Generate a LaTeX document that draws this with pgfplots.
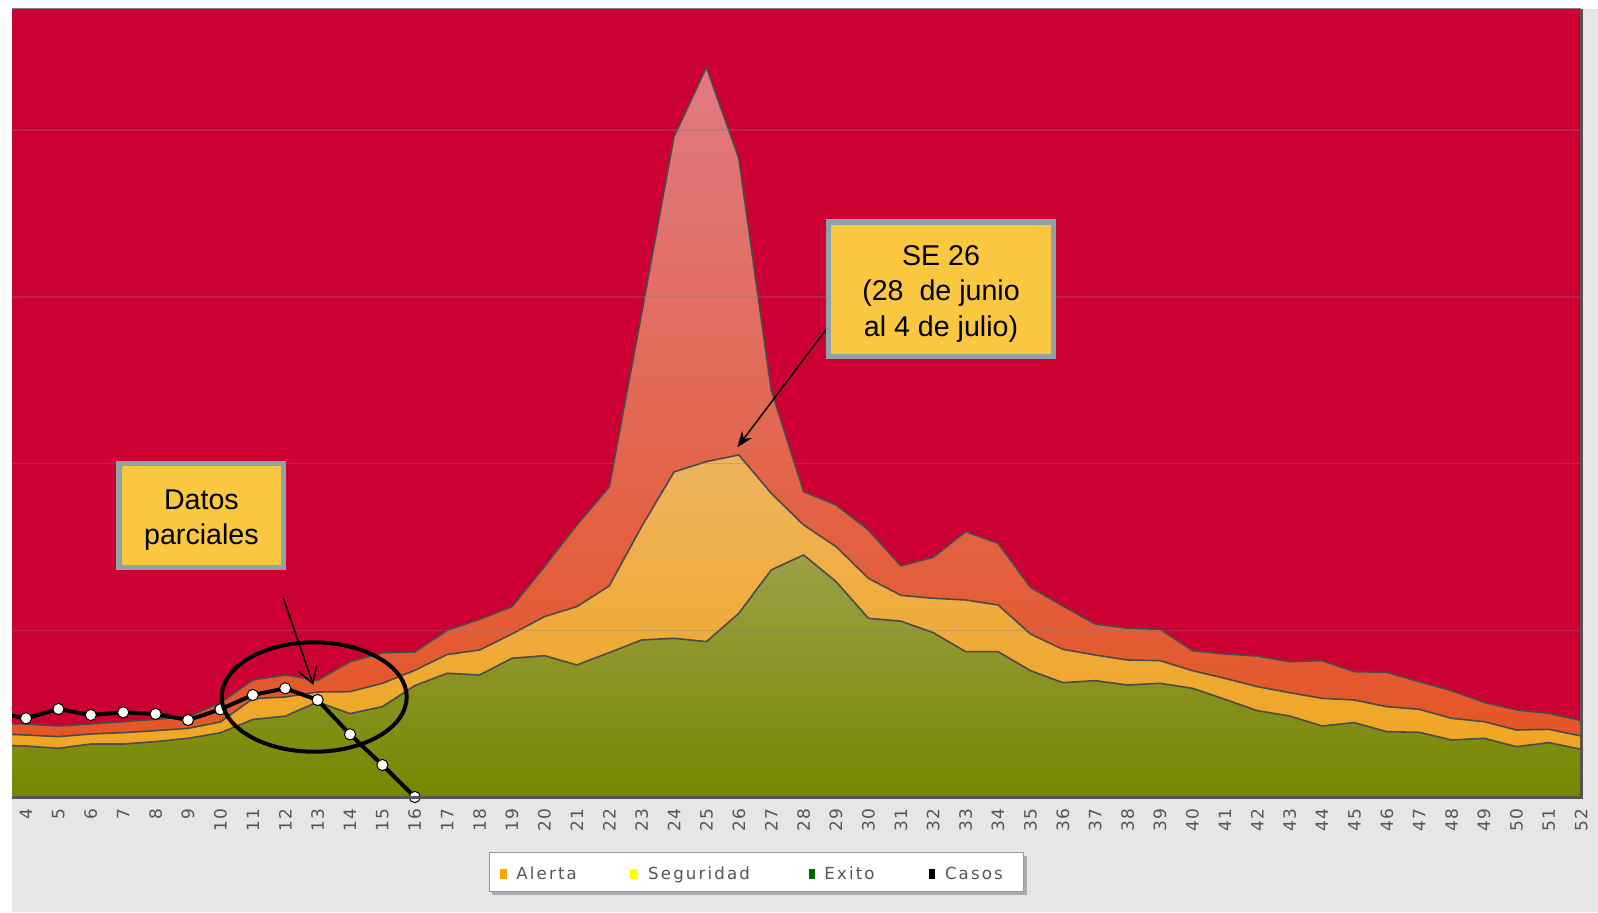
\documentclass[border=0pt]{standalone}
\usepackage{pgfplots}
\pgfplotsset{compat=1.18}
\usepackage{pgfplotstable}
\usetikzlibrary{arrows.meta}
\usepackage{fontspec}
\setmainfont{Liberation Sans}
\newfontfamily\tickfamily[LetterSpace=10]{DejaVu Sans}
\newfontfamily\legfamily[LetterSpace=13]{DejaVu Sans}
\newcommand\tickfont{\tickfamily\fontsize{8.5}{10}\selectfont}
\newcommand\legfont{\legfamily\fontsize{8.3}{10}\selectfont}

\definecolor{bgred}{HTML}{CC0033}
\definecolor{alertbot}{HTML}{E5531E}
\definecolor{alerttop}{HTML}{E07A82}
\definecolor{segbot}{HTML}{F0A418}
\definecolor{segtop}{HTML}{EEB35E}
\definecolor{exbot}{HTML}{768700}
\definecolor{extop}{HTML}{9DA045}
\definecolor{edge}{HTML}{4A4A4A}
\definecolor{panel}{HTML}{E6E6E6}
\definecolor{boxfill}{HTML}{F9C740}
\definecolor{boxedge}{HTML}{8DA3A6}
\definecolor{tickgray}{HTML}{555555}
\definecolor{leggray}{HTML}{555555}
\definecolor{legorange}{HTML}{FFA500}
\definecolor{legyellow}{HTML}{FFFF00}
\definecolor{leggreen}{HTML}{006600}

\pgfplotstableread{
w E S A
3 0.310 0.380 0.440
4 0.306 0.372 0.438
5 0.292 0.362 0.426
6 0.318 0.378 0.438
7 0.318 0.386 0.452
8 0.332 0.398 0.466
9 0.352 0.412 0.482
10 0.385 0.450 0.565
11 0.465 0.590 0.702
12 0.485 0.600 0.732
13 0.570 0.630 0.700
14 0.500 0.632 0.812
15 0.542 0.682 0.865
16 0.668 0.760 0.870
17 0.742 0.855 1.000
18 0.732 0.882 1.066
19 0.832 0.978 1.142
20 0.848 1.082 1.382
21 0.792 1.142 1.632
22 0.866 1.266 1.860
23 0.942 1.622 2.900
24 0.952 1.950 3.961
25 0.932 2.012 4.377
26 1.102 2.052 3.831
27 1.362 1.822 2.441
28 1.452 1.632 1.832
29 1.292 1.502 1.752
30 1.072 1.312 1.602
31 1.055 1.210 1.387
32 0.986 1.192 1.438
33 0.872 1.182 1.592
34 0.872 1.152 1.522
35 0.758 0.978 1.258
36 0.686 0.886 1.146
37 0.698 0.852 1.038
38 0.672 0.822 1.012
39 0.682 0.818 1.006
40 0.652 0.758 0.878
41 0.586 0.712 0.858
42 0.518 0.662 0.846
43 0.486 0.626 0.812
44 0.426 0.592 0.818
45 0.446 0.582 0.752
46 0.392 0.542 0.748
47 0.388 0.526 0.692
48 0.342 0.472 0.638
49 0.352 0.452 0.568
50 0.302 0.402 0.522
51 0.326 0.406 0.502
52 0.286 0.366 0.458
}\bands

\pgfplotstableread{
w C
3 0.510
4 0.472
5 0.528
6 0.492
7 0.508
8 0.498
9 0.462
10 0.526
11 0.612
12 0.652
13 0.582
14 0.376
15 0.192
16 0.000
}\casos

\begin{document}
\begin{tikzpicture}
\useasboundingbox (0,0) rectangle (799pt,456pt);
\fill[white] (0,0) rectangle (799pt,456pt);
\fill[panel] (6pt,0) rectangle (799pt,451.5pt);

\begin{axis}[
  at={(6pt,57.5pt)}, anchor=south west,
  scale only axis, width=784.6pt, height=394pt,
  xmin=3.5679, xmax=52, ymin=0, ymax=4.727,
  axis background/.style={fill=bgred},
  axis on top,
  axis line style={draw=none},
  xtick={4,...,52}, ytick={1,2,3,4}, yticklabels={},
  ymajorgrids,
  major grid style={draw=gray, opacity=0.32, line width=0.8pt},
  major tick length=0pt,
  /pgf/number format/assume math mode=true,
  xticklabel style={font=\tickfont, text=tickgray, yshift=-5.5pt, rotate=90, anchor=east, inner sep=0pt},
  clip=true,
]
\addplot[draw=none, top color=alerttop, bottom color=alertbot] table[x=w, y=A]{\bands} \closedcycle;
\addplot[draw=none, top color=segtop, bottom color=segbot] table[x=w, y=S]{\bands} \closedcycle;
\addplot[draw=none, top color=extop, bottom color=exbot] table[x=w, y=E]{\bands} \closedcycle;
\addplot[edge, line width=0.8pt, mark=none, line join=round] table[x=w, y=A]{\bands};
\addplot[edge, line width=0.8pt, mark=none, line join=round] table[x=w, y=S]{\bands};
\addplot[edge, line width=0.8pt, mark=none, line join=round] table[x=w, y=E]{\bands};
\addplot[black, line width=2pt, mark=none, line join=round] table[x=w, y=C]{\casos};
\addplot[only marks, mark=*, mark size=2.8pt, mark options={fill=white, draw=black, line width=0.5pt}]
  table[x=w, y=C, skip coords between index={0}{1}]{\casos};
\end{axis}

\draw[line width=1.5pt, draw=tickgray] (current axis.south west) -- (current axis.south east) -- (current axis.north east);
\draw[line width=0.5pt, draw=gray] (current axis.north west) -- (current axis.north east);

\begin{scope}[x=0.5pt, y=-0.5pt, yshift=456pt]
  % SE 26 annotation
  \draw[line width=0.75pt, -{Stealth[length=8pt, width=6pt]}] (828,327) -- (737.3,447.3);
  \node[draw=boxedge, line width=2.6pt, fill=boxfill, minimum width=112.4pt, minimum height=67.2pt,
        inner sep=0pt] at (941,289.2) {};
  \node[inner sep=0pt, align=center, font={\fontsize{14.3}{17.75}\selectfont}] at (941,293.6)
        {SE 26\\(28\ \ de junio\\al 4 de julio)};
  % Datos parciales annotation
  \node[draw=boxedge, line width=2.6pt, fill=boxfill, minimum width=82.4pt, minimum height=52.1pt,
        inner sep=0pt] at (201.4,515.3) {};
  \node[inner sep=0pt, align=center, font={\fontsize{14.3}{17.2}\selectfont}] at (201.4,520.3)
        {Datos\\parciales};
  \draw[line width=0.75pt, -{Straight Barb[length=8pt, width=9.5pt]}] (283.3,598) -- (313.3,685);
  \draw[line width=2pt] (314.2,697) ellipse [x radius=46.25pt, y radius=27.35pt];

  % legend
  \fill[black, opacity=0.25] (492.3,855.7) rectangle (1026.7,894.7);
  \draw[draw=gray!80, fill=white, line width=0.5pt] (489.3,852.7) rectangle (1023.7,891.7);
  \fill[legorange] (500.4,869) rectangle (507,879);
  \fill[legyellow] (629.9,869) rectangle (636.6,879);
  \fill[leggreen] (808.5,869) rectangle (815,879);
  \fill[black] (929,869) rectangle (935,879);
  \node[anchor=base west, inner sep=0pt, font=\legfont, text=leggray] at (516,879.3) {Alerta};
  \node[anchor=base west, inner sep=0pt, font=\legfont, text=leggray] at (647.8,879.3) {Seguridad};
  \node[anchor=base west, inner sep=0pt, font=\legfont, text=leggray] at (824,879.3) {Exito};
  \node[anchor=base west, inner sep=0pt, font=\legfont, text=leggray] at (944.6,879.3) {Casos};
\end{scope}
\end{tikzpicture}
\end{document}
